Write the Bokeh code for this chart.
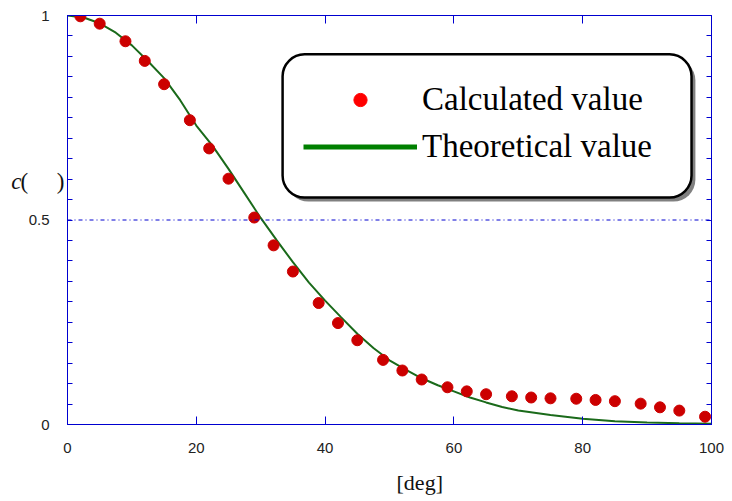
from bokeh.plotting import figure
from bokeh.models import (Range1d, LinearAxis, FixedTicker, Span, Legend,
                          LegendItem, BoxAnnotation, ColumnDataSource)
from bokeh.embed import file_html
from bokeh.resources import INLINE

# ---- data ----
calc_x = [2, 5, 9, 12, 15, 19, 22, 25, 29, 32, 35, 39, 42, 45, 49, 52, 55, 59, 62, 65,
          69, 72, 75, 79, 82, 85, 89, 92, 95, 99]
calc_y = [0.998, 0.980, 0.937, 0.889, 0.832, 0.744, 0.675, 0.601, 0.506, 0.438, 0.374,
          0.297, 0.248, 0.206, 0.158, 0.132, 0.110, 0.091, 0.081, 0.074, 0.069, 0.066,
          0.064, 0.063, 0.060, 0.057, 0.051, 0.042, 0.034, 0.019]

theory_x = [0, 2.5, 5, 7.5, 10, 12.5, 15, 17.5, 20, 22.5, 25, 27.5, 30, 32.5, 35, 37.5,
            40, 42.5, 45, 47.5, 50, 52.5, 55, 57.5, 60, 62.5, 65, 67.5, 70, 75, 80, 85,
            90, 95, 100]
theory_y = [1.000, 0.995, 0.981, 0.958, 0.927, 0.888, 0.847, 0.793, 0.731, 0.682, 0.625,
            0.565, 0.505, 0.450, 0.397, 0.347, 0.303, 0.262, 0.222, 0.187, 0.157, 0.134,
            0.113, 0.096, 0.081, 0.066, 0.054, 0.043, 0.034, 0.023, 0.014, 0.008, 0.005,
            0.003, 0.002]

x_ticks = [0, 20, 40, 60, 80, 100]
y_ticks = [0, 0.5, 1]
y_minor = [round(0.05 * k, 2) for k in range(1, 20) if k != 10]

legend_labels = ["Calculated value", "Theoretical value"]
x_title = "[deg]"
y_title_italic = "c"
y_title_rest = "(\u00a0\u00a0\u00a0\u00a0\u00a0)"
x_title_pos = 54.7
y_title_pos = 0.595

BLUE = "#0000d0"
SERIF = "Liberation Serif"

p = figure(width=732, height=501, x_range=Range1d(0, 100), y_range=Range1d(0, 1),
           output_backend="svg", toolbar_location=None,
           min_border_left=67, min_border_right=21, min_border_top=15, min_border_bottom=77,
           x_axis_type=None, y_axis_type=None)
p.background_fill_color = "white"
p.border_fill_color = "white"
p.outline_line_color = BLUE
p.outline_line_width = 1
p.grid.visible = False


def style_axis(ax, ticks, minor, tick_len, labels):
    ax.ticker = FixedTicker(ticks=ticks, minor_ticks=minor)
    ax.axis_line_color = BLUE
    ax.major_tick_line_color = BLUE
    ax.minor_tick_line_color = BLUE
    ax.major_tick_in = tick_len
    ax.major_tick_out = 0
    ax.minor_tick_in = 5
    ax.minor_tick_out = 0
    if labels:
        ax.major_label_text_font = "Liberation Sans"
        ax.major_label_text_font_size = "15px"
        ax.major_label_text_color = "#222222"
        ax.major_label_standoff = 18
    else:
        ax.major_label_text_font_size = "0px"
        ax.major_label_standoff = 0


def title_axis(pos, text, size, style, standoff):
    ax = LinearAxis(ticker=FixedTicker(ticks=[pos], minor_ticks=[]))
    ax.axis_line_color = None
    ax.major_tick_line_color = None
    ax.minor_tick_line_color = None
    ax.major_tick_in = 0
    ax.major_tick_out = 0
    ax.major_label_overrides = {pos: text}
    ax.major_label_text_font = SERIF
    ax.major_label_text_font_size = size
    ax.major_label_text_font_style = style
    ax.major_label_text_color = "#111111"
    ax.major_label_standoff = standoff
    return ax


xb = LinearAxis()
style_axis(xb, x_ticks, [], 8, True)
p.add_layout(xb, "below")
p.add_layout(title_axis(x_title_pos, x_title, "22px", "normal", 14), "below")

xt = LinearAxis()
style_axis(xt, x_ticks, [], 8, False)
p.add_layout(xt, "above")

yl = LinearAxis()
style_axis(yl, y_ticks, y_minor, 5, True)
yl.major_label_overrides = {0: "0", 0.5: "0.5", 1: "1"}
p.add_layout(yl, "left")
p.add_layout(title_axis(y_title_pos, y_title_rest, "23px", "normal", -39), "left")
p.add_layout(title_axis(y_title_pos, y_title_italic, "23px", "italic", -4), "left")

yr = LinearAxis()
style_axis(yr, y_ticks, y_minor, 5, False)
p.add_layout(yr, "right")

# dotted line at 0.5
p.add_layout(Span(location=0.5, dimension="width", line_color=BLUE, line_width=1,
                  line_dash="4 3 1 3"))

# data
r_line = p.line(theory_x, theory_y, line_color="#1a6a1a", line_width=2)
r_pts = p.scatter(calc_x, calc_y, size=11, fill_color="#cc0000", line_color="#cc0000")

# legend proxies (one point far outside the visible ranges)
src_proxy = ColumnDataSource(data=dict(x=[-1000], y=[-1000]))
leg_pts = p.scatter("x", "y", source=src_proxy, fill_color="#ff0000", line_color="#ff0000")
leg_line = p.line("x", "y", source=src_proxy, line_color="#008000", line_width=5)

# legend box (shadow + box)
p.add_layout(BoxAnnotation(left=34.0, right=97.5, top=0.895, bottom=0.545,
                           fill_color="#808080", fill_alpha=1, line_color=None,
                           border_radius=22, level="annotation"))
p.add_layout(BoxAnnotation(left=33.4, right=96.9, top=0.905, bottom=0.555,
                           fill_color="white", fill_alpha=1, line_color="black",
                           line_alpha=1, line_width=2.5, border_radius=22,
                           level="annotation"))

legend = Legend(items=[LegendItem(label=legend_labels[0], renderers=[leg_pts]),
                       LegendItem(label=legend_labels[1], renderers=[leg_line])],
                location=(236, 258), orientation="vertical",
                glyph_width=114, glyph_height=33, label_height=40, label_standoff=5,
                spacing=7, padding=0, margin=0,
                label_text_font=SERIF, label_text_font_size="33px",
                label_text_color="black",
                border_line_color=None, background_fill_alpha=0)
p.add_layout(legend, "center")

open("out.html", "w").write(file_html(p, INLINE))
